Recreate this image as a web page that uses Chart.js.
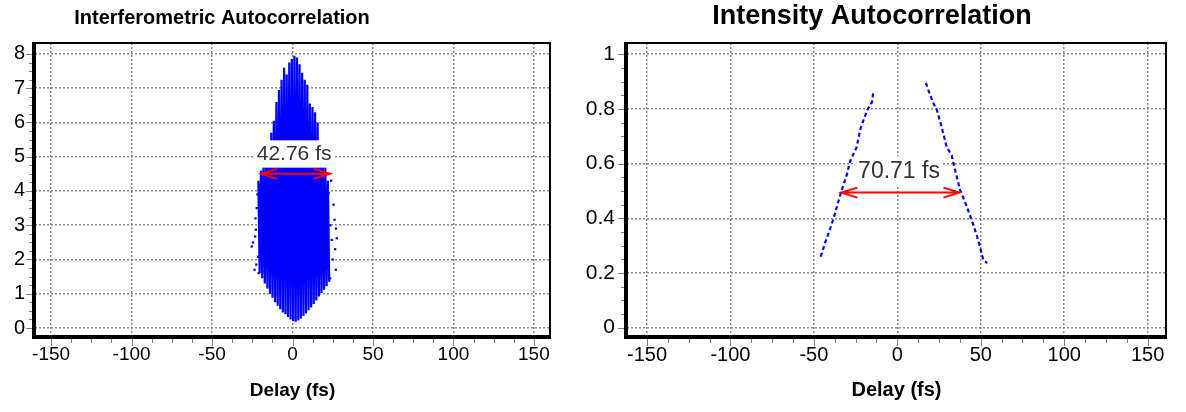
<!DOCTYPE html>
<html>
<head>
<meta charset="utf-8">
<script src="https://cdn.jsdelivr.net/npm/chart.js@4.4.1/dist/chart.umd.min.js"></script>
<style>
  body { margin: 0; background: #fff; }
  #wrap { position: relative; width: 1186px; height: 412px; }
  .panel { position: absolute; top: 0; height: 412px; }
</style>
</head>
<body>
<div id="wrap">
  <div class="panel" style="left:0;width:580px"><canvas id="inter-chart"></canvas></div>
  <div class="panel" style="left:580px;width:606px"><canvas id="intensity-chart"></canvas></div>
</div>
<script>
const fontFamily = '"Liberation Sans", Arial, sans-serif';

// delay axis (fs)
const delayTicks = [-150, -100, -50, 0, 50, 100, 150];

// interferometric autocorrelation: fringes (alternating top / bottom)
const fringeDelay = [
  -21.2, -20.4, -19.6, -18.8, -18.0, -17.2, -16.4, -15.6, -14.8, -14.0,
  -13.2, -12.4, -11.6, -10.8, -10.0, -9.2, -8.4, -7.6, -6.8, -6.0,
  -5.2, -4.4, -3.6, -2.8, -2.0, -1.2, -0.4, 0.4, 1.2, 2.0,
  2.8, 3.6, 4.4, 5.2, 6.0, 6.8, 7.6, 8.4, 9.2, 10.0,
  10.8, 11.6, 12.4, 13.2, 14.0, 14.8, 15.6, 16.4, 17.2, 18.0,
  18.8, 19.6, 20.4, 21.2, 22.0, 22.8,
];
const fringeSignal = [
  4.3, 1.6, 4.6, 1.45, 4.9, 1.3, 5.1, 1.15, 5.4, 1.0,
  5.7, 0.88, 6.05, 0.75, 6.6, 0.65, 6.95, 0.55, 7.25, 0.45,
  7.6, 0.4, 7.4, 0.32, 7.75, 0.25, 7.85, 0.2, 7.95, 0.18,
  7.9, 0.22, 7.7, 0.27, 7.45, 0.35, 7.25, 0.42, 7.1, 0.52,
  6.55, 0.6, 6.45, 0.7, 6.3, 0.8, 6.0, 0.92, 5.4, 1.02,
  5.0, 1.12, 4.7, 1.22, 4.3, 1.35,
];
// loose samples at the wings
const wingDelay = [-25.3, -24.5, -23.6, -23.2, -23.0, -22.8, -22.5, -22.2, -21.8, -21.5, -21.0, -20.1,
  22.4, 23.4, 23.5, 24.0, 24.4, 25.0, 25.5, 26.1, 26.5, 26.9, 27.0, 27.5];
const wingSignal = [2.38, 2.5, 1.7, 2.67, 3.2, 2.87, 1.85, 3.5, 3.9, 2.08, 1.6, 4.18,
  3.94, 1.45, 3.0, 4.3, 2.57, 2.0, 3.6, 3.16, 2.3, 1.7, 2.9, 2.62];
const interTicks = [0, 1, 2, 3, 4, 5, 6, 7, 8];
const interFwhm = { from: -19.5, to: 23.26, level: 4.5, text: "42.76 fs", labelAt: [1.0, 5.08], size: 21 };

// intensity autocorrelation (null = gap)
const intensityDelay = [-45.9, -43.3, -40.9, -37.9, -34.0, -30.0, -28.4, -24.4, -22.0, -18.0, -15.1, -14.5,
  0, 17.1, 19.7, 21.7, 23.7, 26.7, 29.6, 32.6, 34.6, 37.6, 41.6, 44.5, 47.5, 49.5, 51.5, 53.9];
const intensitySignal = [0.26, 0.31, 0.35, 0.406, 0.49, 0.565, 0.607, 0.66, 0.73, 0.796, 0.826, 0.857,
  null, 0.895, 0.85, 0.82, 0.796, 0.73, 0.66, 0.63, 0.577, 0.504, 0.443, 0.394, 0.34, 0.297, 0.248, 0.236];
const intensityTicks = [0, 0.2, 0.4, 0.6, 0.8, 1];
const intensityFwhm = { from: -33.5, to: 37.21, level: 0.494, text: "70.71 fs", labelAt: [1.0, 0.572], size: 23 };

const toPoints = (xs, ys) => xs.map((x, i) => ({ x: x, y: ys[i] }));

const panelTitle = {
  id: "panelTitle",
  afterDraw(chart, args, opts) {
    const ctx = chart.ctx;
    ctx.save();
    ctx.font = "bold " + opts.size + "px " + fontFamily;
    ctx.fillStyle = "#000";
    ctx.textAlign = "center";
    ctx.textBaseline = "middle";
    ctx.fillText(opts.text, opts.x, opts.y);
    ctx.restore();
  },
};

const fwhmMarker = {
  id: "fwhmMarker",
  afterDatasetsDraw(chart, args, o) {
    const { ctx, scales: { x, y } } = chart;
    const x1 = x.getPixelForValue(o.from);
    const x2 = x.getPixelForValue(o.to);
    const py = y.getPixelForValue(o.level);
    ctx.save();
    ctx.font = o.size + "px " + fontFamily;
    const w = ctx.measureText(o.text).width;
    const lx = x.getPixelForValue(o.labelAt[0]);
    const ly = y.getPixelForValue(o.labelAt[1]);
    ctx.fillStyle = "#fff";
    ctx.fillRect(lx - w / 2 - 3, ly - o.size * 0.65, w + 6, o.size * 1.3);
    ctx.fillStyle = "#333";
    ctx.textAlign = "center";
    ctx.textBaseline = "middle";
    ctx.fillText(o.text, lx, ly);
    ctx.strokeStyle = "#ff0000";
    ctx.lineWidth = 2;
    ctx.beginPath();
    ctx.moveTo(x1, py); ctx.lineTo(x2, py);
    ctx.moveTo(x1 + 16, py - 5); ctx.lineTo(x1, py); ctx.lineTo(x1 + 16, py + 5);
    ctx.moveTo(x2 - 16, py - 5); ctx.lineTo(x2, py); ctx.lineTo(x2 - 16, py + 5);
    ctx.stroke();
    ctx.restore();
  },
};

const frameDeco = {
  id: "frameDeco",
  afterDraw(chart, args, opts) {
    const { ctx, chartArea: a, scales: { x, y } } = chart;
    ctx.save();
    ctx.strokeStyle = "#808080";
    ctx.lineWidth = 1;
    ctx.beginPath();
    const xt = opts.xTicks, yt = opts.yTicks;
    xt.forEach((v, i) => {
      const px = Math.round(x.getPixelForValue(v)) + 0.5;
      ctx.moveTo(px, a.bottom + 2); ctx.lineTo(px, a.bottom + 9);
      if (i < xt.length - 1) {
        const step = (xt[i + 1] - v) / 4;
        for (let k = 1; k < 4; k++) {
          const m = Math.round(x.getPixelForValue(v + k * step)) + 0.5;
          ctx.moveTo(m, a.bottom + 2); ctx.lineTo(m, a.bottom + 6);
        }
      }
    });
    yt.forEach((v, i) => {
      const py = Math.round(y.getPixelForValue(v)) + 0.5;
      ctx.moveTo(a.left - 3, py); ctx.lineTo(a.left - 9, py);
      if (i < yt.length - 1) {
        const step = (yt[i + 1] - v) / 4;
        for (let k = 1; k < 4; k++) {
          const m = Math.round(y.getPixelForValue(v + k * step)) + 0.5;
          ctx.moveTo(a.left - 3, m); ctx.lineTo(a.left - 6, m);
        }
      }
    });
    ctx.stroke();
    ctx.strokeStyle = "#000";
    ctx.lineWidth = 2;
    ctx.strokeRect(a.left, a.top, a.right - a.left, a.bottom - a.top);
    ctx.fillStyle = "#000";
    ctx.fillRect(a.left - 3, a.top - 1, 4, a.bottom - a.top + 3);
    ctx.fillRect(a.left - 3, a.bottom - 2, a.right - a.left + 4, 4);
    ctx.restore();
  },
};

function xAxis(min, max, tickSize, titleSize) {
  return {
    type: "linear",
    min: min,
    max: max,
    bounds: "data",
    afterBuildTicks: (s) => { s.ticks = delayTicks.map((v) => ({ value: v })); },
    afterFit: (s) => { s.height = 412 - 337; },
    grid: { color: "#888", lineWidth: 1.5, drawTicks: false },
    border: { display: false, dash: [2, 2] },
    ticks: {
      color: "#000", font: { family: fontFamily, size: tickSize }, padding: 6,
      maxRotation: 0, autoSkip: false, callback: (v) => String(v),
    },
    title: {
      display: true, text: "Delay (fs)", color: "#000",
      font: { family: fontFamily, size: titleSize, weight: "bold" },
      padding: { top: 0, bottom: 10 },
    },
  };
}

function yAxis(min, max, ticks, width, tickSize, pad) {
  return {
    type: "linear",
    min: min,
    max: max,
    bounds: "data",
    afterBuildTicks: (s) => { s.ticks = ticks.map((v) => ({ value: v })); },
    afterFit: (s) => { s.width = width; },
    grid: { color: "#888", lineWidth: 1.5, drawTicks: false },
    border: { display: false, dash: [2, 2] },
    ticks: {
      color: "#000", font: { family: fontFamily, size: tickSize }, padding: pad,
      autoSkip: false, callback: (v) => String(v),
    },
  };
}

const baseOptions = {
  animation: false,
  responsive: true,
  maintainAspectRatio: false,
  devicePixelRatio: 1,
};

let interChart = new Chart(document.getElementById("inter-chart"), {
  type: "scatter",
  data: {
    datasets: [
      {
        data: toPoints(fringeDelay, fringeSignal),
        showLine: true,
        borderColor: "#0000ff",
        borderWidth: 2.2,
        pointRadius: 0,
      },
      {
        data: toPoints(wingDelay, wingSignal),
        pointStyle: "rect",
        pointRadius: 1.6,
        backgroundColor: "#0000ff",
        borderWidth: 0,
      },
    ],
  },
  options: {
    ...baseOptions,
    layout: { padding: { top: 43, right: 30, left: 0, bottom: 0 } },
    plugins: {
      legend: { display: false },
      tooltip: { enabled: false },
      panelTitle: { text: "Interferometric Autocorrelation", x: 222, y: 18, size: 20 },
      fwhmMarker: interFwhm,
      frameDeco: { xTicks: delayTicks, yTicks: interTicks },
    },
    scales: {
      x: xAxis(-160, 160, 19, 19),
      y: yAxis(-0.263, 8.32, interTicks, 35, 20, 10),
    },
  },
  plugins: [panelTitle, fwhmMarker, frameDeco],
});

let intensityChart = new Chart(document.getElementById("intensity-chart"), {
  type: "scatter",
  data: {
    datasets: [
      {
        data: toPoints(intensityDelay, intensitySignal),
        showLine: true,
        spanGaps: false,
        borderColor: "#0000ff",
        borderWidth: 2.2,
        borderDash: [4, 3],
        pointRadius: 0,
      },
    ],
  },
  options: {
    ...baseOptions,
    layout: { padding: { top: 43, right: 20, left: 0, bottom: 0 } },
    plugins: {
      legend: { display: false },
      tooltip: { enabled: false },
      panelTitle: { text: "Intensity Autocorrelation", x: 292, y: 17, size: 27 },
      fwhmMarker: intensityFwhm,
      frameDeco: { xTicks: delayTicks, yTicks: intensityTicks },
    },
    scales: {
      x: xAxis(-162, 161, 20, 20),
      y: yAxis(-0.034, 1.041, intensityTicks, 47, 21, 12),
    },
  },
  plugins: [panelTitle, fwhmMarker, frameDeco],
});
</script>
</body>
</html>
